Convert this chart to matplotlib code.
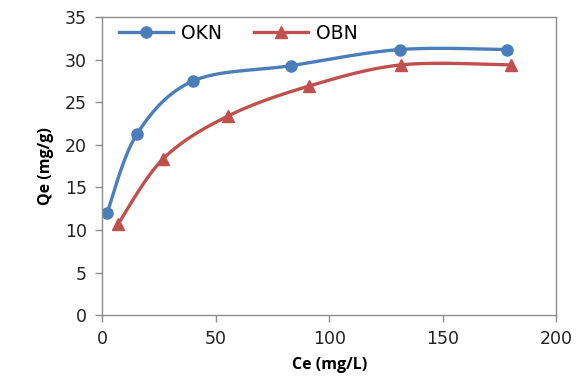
import numpy as np
import matplotlib
matplotlib.use("Agg")
import matplotlib.pyplot as plt

okn_x = [2.2, 15.4, 40, 83, 131, 178.5]
okn_y = [12.0, 21.3, 27.5, 29.3, 31.2, 31.2]
obn_x = [7, 27, 55.5, 91, 131.7, 180]
obn_y = [10.7, 18.4, 23.4, 26.9, 29.4, 29.4]
x_ticks = [0, 50, 100, 150, 200]
y_ticks = [0, 5, 10, 15, 20, 25, 30, 35]

BLUE = "#4A7EBB"
RED = "#C0504D"


def smooth(xs, ys, n=30):
    # Excel style smoothed line: cubic bezier, control points from neighbours
    p = np.column_stack([xs, ys]).astype(float)
    out = [p[0]]
    t = np.linspace(0, 1, n)[1:, None]
    for i in range(len(p) - 1):
        p0 = p[i - 1] if i > 0 else p[i]
        p3 = p[i + 2] if i + 2 < len(p) else p[i + 1]
        c1 = p[i] + (p[i + 1] - p0) / 6
        c2 = p[i + 1] - (p3 - p[i]) / 6
        seg = ((1 - t) ** 3) * p[i] + 3 * ((1 - t) ** 2) * t * c1 \
            + 3 * (1 - t) * t ** 2 * c2 + t ** 3 * p[i + 1]
        out.extend(seg)
    out = np.array(out)
    return out[:, 0], out[:, 1]


fig = plt.figure(figsize=(5.77, 3.82), dpi=100)
ax = fig.add_axes([0.177, 0.175, 0.787, 0.78])

sx, sy = smooth(okn_x, okn_y)
ax.plot(sx, sy, color=BLUE, lw=2.4, solid_capstyle="round")
ax.plot(okn_x, okn_y, "o", color=BLUE, ms=8, mec=BLUE)
sx, sy = smooth(obn_x, obn_y)
ax.plot(sx, sy, color=RED, lw=2.4, solid_capstyle="round")
ax.plot(obn_x, obn_y, "^", color=RED, ms=8.5, mec=RED)

# legend proxies
h1, = ax.plot([], [], "-o", color=BLUE, lw=2.4, ms=8, label="OKN")
h2, = ax.plot([], [], "-^", color=RED, lw=2.4, ms=8.5, label="OBN")
ax.legend(handles=[h1, h2], ncol=2, frameon=False, loc="upper left",
          bbox_to_anchor=(0.0, 1.035), handlelength=2.9, columnspacing=1.7,
          handletextpad=0.4, prop={"family": "DejaVu Sans", "size": 13.5})

ax.set_xlim(0, 200)
ax.set_ylim(0, 35)
ax.set_xticks(x_ticks)
ax.set_yticks(y_ticks)
for s in ax.spines.values():
    s.set_color("#8c8c8c")
    s.set_linewidth(1.0)
ax.tick_params(colors="#8c8c8c", labelcolor="#222222", length=5, width=1,
               labelsize=12.5, pad=6)
for lab in ax.get_xticklabels() + ax.get_yticklabels():
    lab.set_family("DejaVu Sans")

ax.set_xlabel("Ce (mg/L)", family="Open Sans", fontweight="bold",
              fontsize=11.5, labelpad=6)
ax.set_ylabel("Qe (mg/g)", family="Open Sans", fontweight="bold",
              fontsize=11.5, labelpad=8)

fig.savefig("out.png", dpi=100)
